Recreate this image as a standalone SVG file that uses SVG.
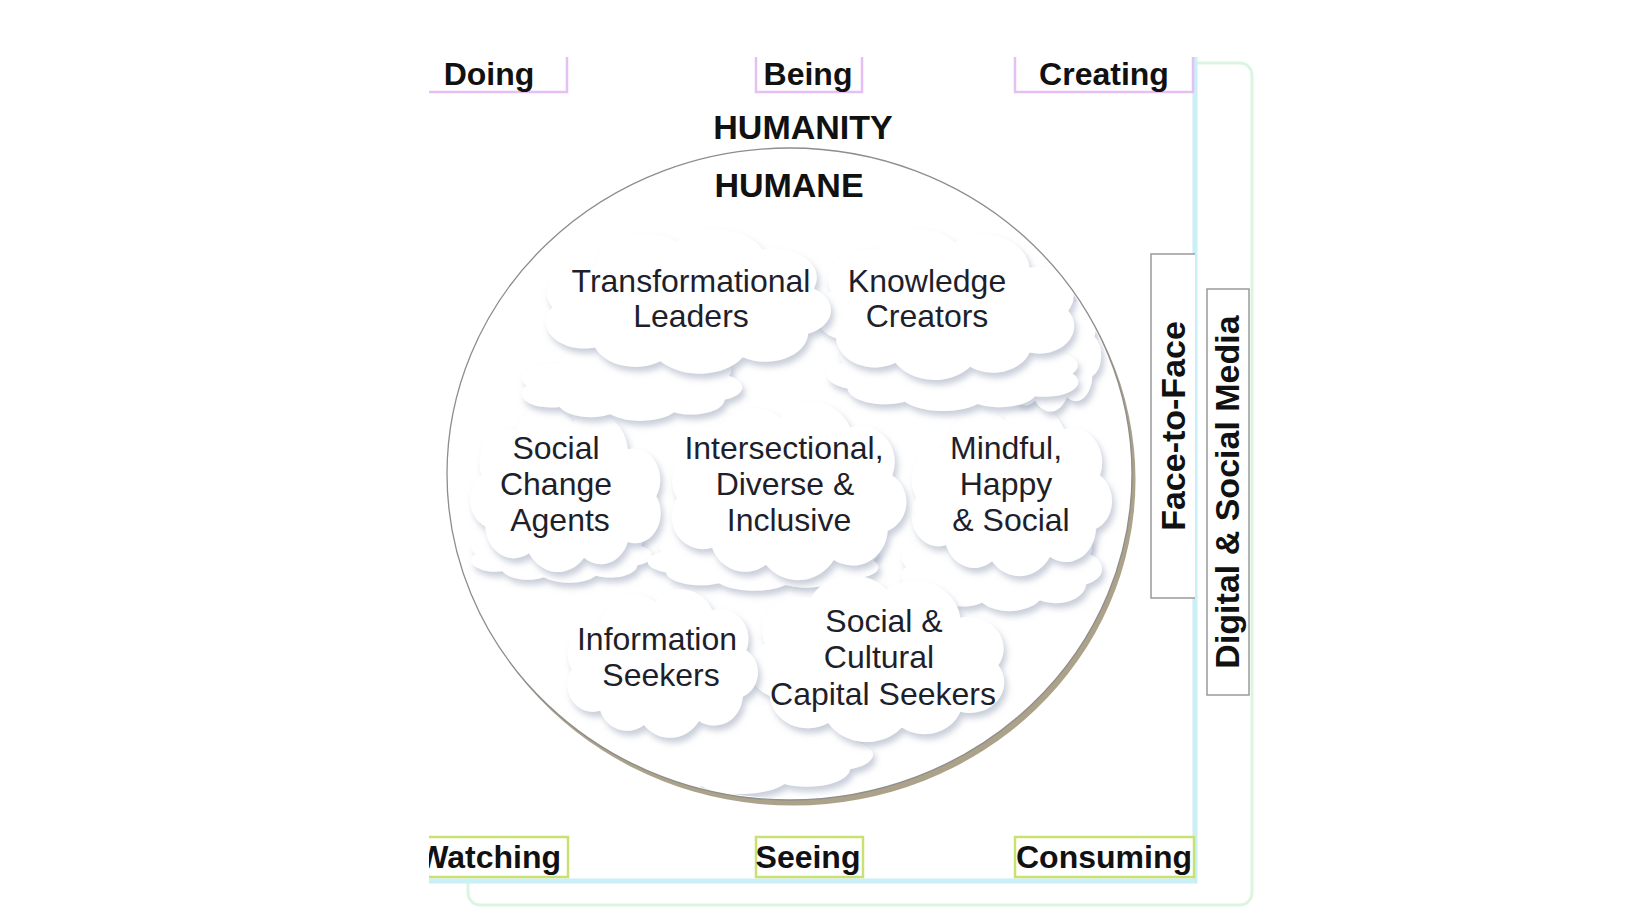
<svg xmlns="http://www.w3.org/2000/svg" width="1640" height="924" viewBox="0 0 1640 924">
<style>
  .lbl{font-family:"Liberation Sans",Arial,sans-serif;font-weight:bold;font-size:32px;fill:#111;text-anchor:middle}
  .big{font-size:34px}
  .ct{font-family:"Liberation Sans",Arial,sans-serif;font-size:32px;fill:#1e1f2b;text-anchor:middle}
  .top{fill:none;stroke:#e6c0f3;stroke-width:2.5}
  .bot{fill:#fff;stroke:#c9e173;stroke-width:2.5}
  .side{fill:#fff;stroke:#9a9a9a;stroke-width:1.5}
  .cl{filter:url(#sh)}
  .cloud{fill:#fff}
</style>
<defs>
  <path id="cloud" d="M6,79 a28,28 0 0 1 30,-42 a36,36 0 0 1 58,-25 a36,36 0 0 1 60,8 a30,30 0 0 1 36,40 a26,26 0 0 1 -4,46 a30,30 0 0 1 -46,24 a36,36 0 0 1 -58,4 a30,30 0 0 1 -46,-14 a27,27 0 0 1 -30,-41 z"/>
  <filter id="sh" x="-15%" y="-15%" width="140%" height="150%">
    <feDropShadow dx="3" dy="5" stdDeviation="3" flood-color="#939cb4" flood-opacity="0.5"/>
  </filter>
  <clipPath id="circ"><ellipse cx="789.5" cy="474" rx="341" ry="324.5"/></clipPath>
  <clipPath id="lclip"><rect x="429" y="0" width="1211" height="924"/></clipPath>
</defs>

<rect width="1640" height="924" fill="#fff"/>

<g id="frame">
  <rect x="468" y="63" width="784" height="842" rx="12" fill="#fff" stroke="#dcf5e0" stroke-width="3"/>
  <rect x="429" y="0" width="766" height="880" fill="#fff"/>
  <path d="M1195,57 V881 H429" fill="none" stroke="#c8f0f6" stroke-width="5"/>
</g>

<g id="circle">
  <ellipse cx="793" cy="479.5" rx="342.5" ry="326" fill="#aca189"/>
  <ellipse cx="789.5" cy="474" rx="342.5" ry="326" fill="#fff" stroke="#8d8d8d" stroke-width="1.3"/>
</g>

<g id="humanity"><text class="lbl big" x="803" y="139">HUMANITY</text></g>
<g id="humane"><text class="lbl big" x="789" y="197">HUMANE</text></g>

<g id="clouds" clip-path="url(#circ)">
  <g id="back-clouds" class="cloud">
    <g class="cl"><use href="#cloud" transform="translate(585,705) scale(1.425,0.607)"/></g>
    <g class="cl"><use href="#cloud" transform="translate(470,520) scale(0.9,0.428)"/></g>
    <g class="cl"><use href="#cloud" transform="translate(880,525) scale(-1.15,0.448)"/></g>
    <g class="cl"><use href="#cloud" transform="translate(900,515) scale(1.0,0.655)"/></g>
  </g>
  <g id="n-scc" class="cloud">
    <g class="cl"><use href="#cloud" transform="translate(1006,576) scale(-1.27,1.131)"/></g>
    <text class="ct"><tspan x="884" y="632">Social &amp;</tspan><tspan x="879" y="668">Cultural</tspan><tspan x="883" y="705">Capital Seekers</tspan></text>
  </g>
  <g id="n-is" class="cloud">
    <g class="cl"><use href="#cloud" transform="translate(566,590) scale(0.95,1.007)"/></g>
    <text class="ct"><tspan x="657" y="650">Information</tspan><tspan x="661" y="686">Seekers</tspan></text>
  </g>
  <g id="n-mhs" class="cloud">
    <g class="cl"><use href="#cloud" transform="translate(910,406) scale(1.0,1.159)"/></g>
    <text class="ct"><tspan x="1006" y="459">Mindful,</tspan><tspan x="1006" y="495">Happy</tspan><tspan x="1011" y="531">&amp; Social</tspan></text>
  </g>
  <g id="n-idi" class="cloud">
    <g class="cl"><use href="#cloud" transform="translate(670,403) scale(1.17,1.207)"/></g>
    <text class="ct"><tspan x="784" y="459">Intersectional,</tspan><tspan x="785" y="495">Diverse &amp;</tspan><tspan x="789" y="531">Inclusive</tspan></text>
  </g>
  <g id="n-sca" class="cloud">
    <g class="cl"><use href="#cloud" transform="translate(662,408) scale(-0.95,1.117)"/></g>
    <text class="ct"><tspan x="556" y="459">Social</tspan><tspan x="556" y="495">Change</tspan><tspan x="560" y="531">Agents</tspan></text>
  </g>
  <g id="back-clouds-2" class="cloud">
    <g class="cl"><use href="#cloud" transform="translate(990,285) scale(0.55,0.862)"/></g>
    <g class="cl"><use href="#cloud" transform="translate(1080,330) scale(-1.25,0.552)"/></g>
    <g class="cl"><use href="#cloud" transform="translate(520,345) scale(1.1,0.517)"/></g>
  </g>
  <g id="n-kc" class="cloud">
    <g class="cl"><use href="#cloud" transform="translate(1076,230) scale(-1.29,1.021)"/></g>
    <text class="ct"><tspan x="927" y="292">Knowledge</tspan><tspan x="927" y="327">Creators</tspan></text>
  </g>
  <g id="n-tl" class="cloud">
    <g class="cl"><use href="#cloud" transform="translate(544,230) scale(1.42,0.979)"/></g>
    <text class="ct"><tspan x="691" y="292">Transformational</tspan><tspan x="691" y="327">Leaders</tspan></text>
  </g>
</g>

<g id="doing"><path class="top" d="M429,92 H567 V57"/><text class="lbl" x="489" y="85">Doing</text></g>
<g id="being"><path class="top" d="M756,57 V92 H862 V57"/><text class="lbl" x="808" y="85">Being</text></g>
<g id="creating"><path class="top" d="M1015,57 V92 H1193 V57"/><text class="lbl" x="1104" y="85">Creating</text></g>

<g id="watching" clip-path="url(#lclip)"><rect class="bot" x="420" y="837" width="148" height="40"/><text class="lbl" x="561" y="868" style="text-anchor:end">Watching</text></g>
<g id="seeing"><rect class="bot" x="756" y="837" width="107" height="40"/><text class="lbl" x="808" y="868">Seeing</text></g>
<g id="consuming"><rect class="bot" x="1015" y="837" width="179" height="40"/><text class="lbl" x="1104" y="868">Consuming</text></g>

<g id="face-to-face"><path class="side" d="M1195,254 H1151 V598 H1195"/><text class="lbl big" transform="translate(1185,426) rotate(-90)">Face-to-Face</text></g>
<g id="digital"><rect class="side" x="1207" y="289" width="42" height="406"/><text class="lbl big" transform="translate(1239,492) rotate(-90)">Digital &amp; Social Media</text></g>
</svg>
